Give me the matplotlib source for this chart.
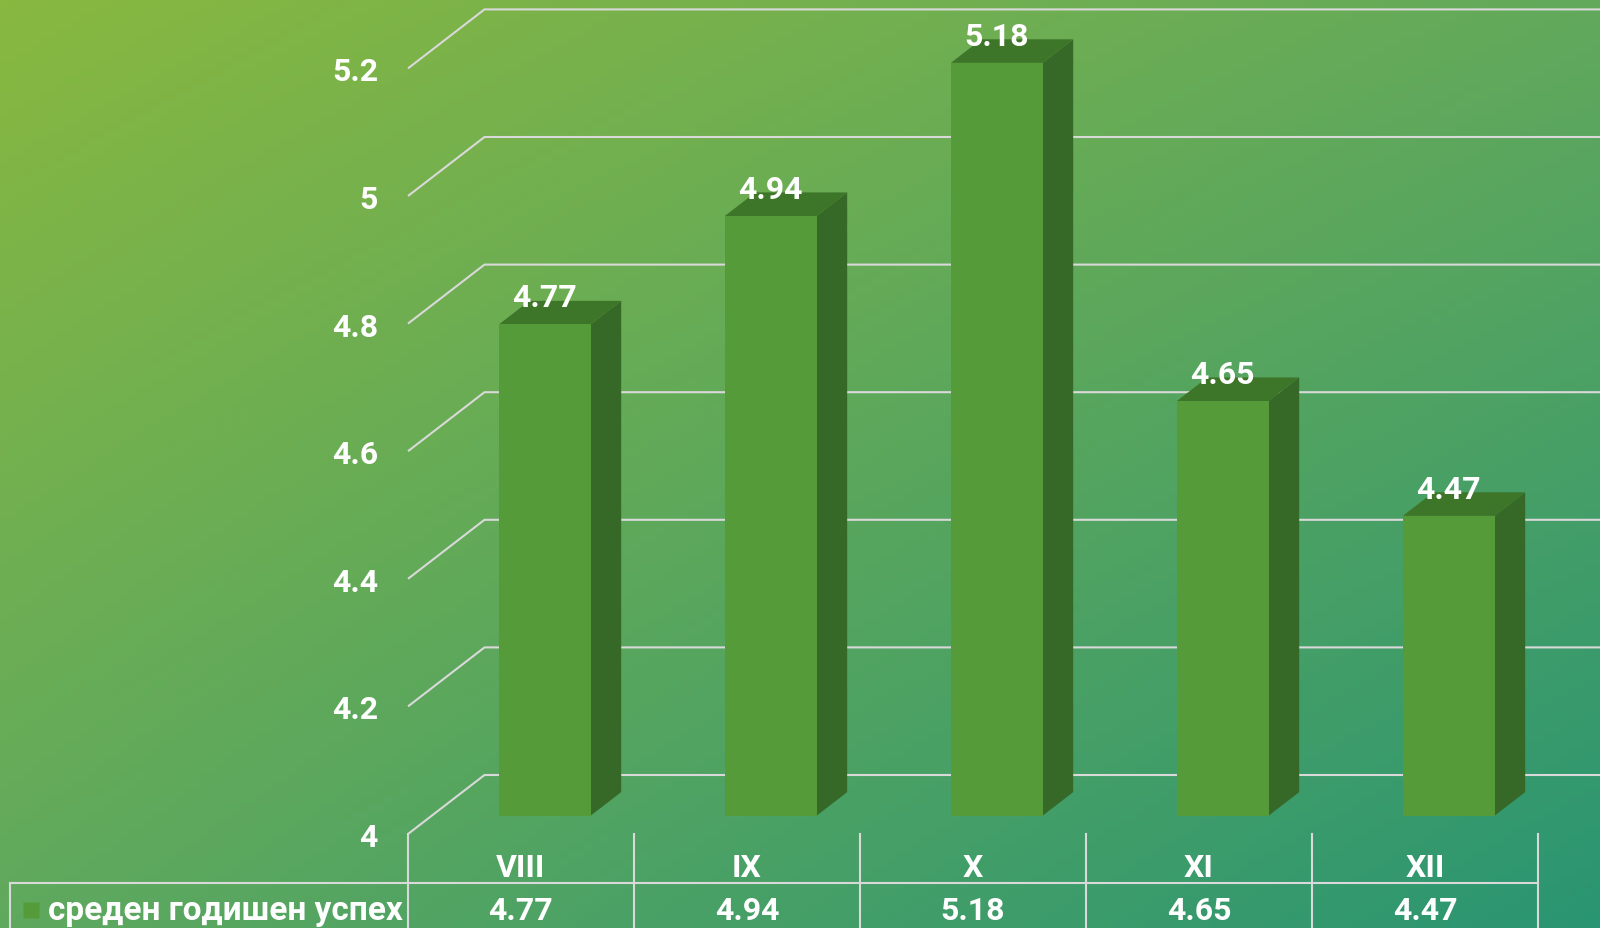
import matplotlib.pyplot as plt
import numpy as np
from matplotlib.patches import Polygon
from matplotlib.colors import to_rgb

# Данни
categories = ['VIII', 'IX', 'X', 'XI', 'XII']
values = [4.77, 4.94, 5.18, 4.65, 4.47]
series_name = 'среден годишен успех'
yticks = [4, 4.2, 4.4, 4.6, 4.8, 5, 5.2]
ytick_labels = ['4', '4.2', '4.4', '4.6', '4.8', '5', '5.2']

W, H = 1600, 929
plt.rcParams['font.family'] = ['Roboto', 'DejaVu Sans']
plt.rcParams['font.weight'] = 'bold'
FS = 23

fig = plt.figure(figsize=(W / 100, H / 100), dpi=100)

# фон - градиент
bg = fig.add_axes([0, 0, 1, 1], zorder=-10)
tl, tr = np.array(to_rgb('#88b840')), np.array(to_rgb('#62a95c'))
bl, br = np.array(to_rgb('#5fa95e')), np.array(to_rgb('#2a9572'))
u = np.linspace(0, 1, 200)[None, :, None]
v = np.linspace(0, 1, 120)[:, None, None]
img = (1 - v) * ((1 - u) * tl + u * tr) + v * ((1 - u) * bl + u * br)
bg.imshow(img, aspect='auto', extent=[0, 1, 0, 1], origin='upper')
bg.axis('off')

# основна ос: предната равнина x 408..1538 px, y 4 -> 835 px, 5.2 -> 69 px
x0_px, x1_px = 408, 1538
base_px, top_px = 835, 69.4
xpp = 5 / (x1_px - x0_px)
ypp = 1.2 / (base_px - top_px)
xmax = -0.5 + (W - x0_px) * xpp
ymax = 4 + base_px * ypp

ax = fig.add_axes([x0_px / W, (H - base_px) / H, (W - x0_px) / W, base_px / H])
ax.set_facecolor('none')
ax.set_xlim(-0.5, xmax)
ax.set_ylim(4, ymax)
for s in ax.spines.values():
    s.set_visible(False)
ax.set_xticks([])
ax.set_yticks(yticks)
ax.set_yticklabels(ytick_labels)
ax.tick_params(axis='y', length=0, pad=21.6, labelsize=FS, labelcolor='white')

# дълбочина
DX = 76.5 * xpp
DY = 59 * ypp
grid_c = '#d9d9d9'
for t in yticks:
    ax.plot([-0.5, -0.5 + DX, xmax], [t, t + DY, t + DY], color=grid_c, lw=1.5,
            zorder=1, clip_on=False, solid_capstyle='butt')

bw = 0.406
f0, f1 = 0.31, 0.71
front_c, side_c, top_c = '#559b3a', '#366828', '#3e7629'
for i, v_ in enumerate(values):
    xl, xr = i - bw / 2, i + bw / 2
    yb = 4
    front = [(xl + f0 * DX, yb + f0 * DY), (xr + f0 * DX, yb + f0 * DY),
             (xr + f0 * DX, v_ + f0 * DY), (xl + f0 * DX, v_ + f0 * DY)]
    side = [(xr + f0 * DX, yb + f0 * DY), (xr + f1 * DX, yb + f1 * DY),
            (xr + f1 * DX, v_ + f1 * DY), (xr + f0 * DX, v_ + f0 * DY)]
    top = [(xl + f0 * DX, v_ + f0 * DY), (xr + f0 * DX, v_ + f0 * DY),
           (xr + f1 * DX, v_ + f1 * DY), (xl + f1 * DX, v_ + f1 * DY)]
    ax.add_patch(Polygon(side, closed=True, fc=side_c, ec='none', zorder=3))
    ax.add_patch(Polygon(top, closed=True, fc=top_c, ec='none', zorder=3))
    ax.add_patch(Polygon(front, closed=True, fc=front_c, ec='none', zorder=4))
    ax.annotate(f'{v_:.2f}', (i + f0 * DX, v_ + f1 * DY), xytext=(0, 2.5),
                textcoords='offset points', ha='center', va='center',
                color='white', fontsize=FS, fontweight='bold', zorder=5)

# таблица отдолу
row_px = 49
tab = fig.add_axes([x0_px / W, (H - base_px - 2 * row_px) / H, (W - x0_px) / W, 2 * row_px / H],
                   sharex=ax)
tab.set_facecolor('none')
tab.set_ylim(0, 2)
tab.axis('off')
leg_left = -0.5 - (x0_px - 10) * xpp
for k in range(len(categories) + 1):
    tab.plot([k - 0.5, k - 0.5], [2, 0], color=grid_c, lw=1.5, clip_on=False)
tab.plot([leg_left, leg_left], [1, 0], color=grid_c, lw=1.5, clip_on=False)
tab.plot([leg_left, len(categories) - 0.5], [1, 1], color=grid_c, lw=1.5, clip_on=False)
for i, (c, v_) in enumerate(zip(categories, values)):
    tab.text(i, 1.33, c, ha='center', va='center', color='white', fontsize=FS,
             fontweight='bold', clip_on=False)
    tab.text(i, 0.44, f'{v_:.2f}', ha='center', va='center', color='white', fontsize=FS,
             fontweight='bold', clip_on=False)
tab.plot([-0.5 - (x0_px - 31) * xpp], [0.44], marker='s', ms=11.5, color=front_c,
         mec='none', clip_on=False)
tab.text(-0.5 - (x0_px - 48) * xpp, 0.44, series_name, ha='left', va='center',
         color='white', fontsize=24, fontweight='bold', clip_on=False)

fig.savefig('out.png', dpi=100)
